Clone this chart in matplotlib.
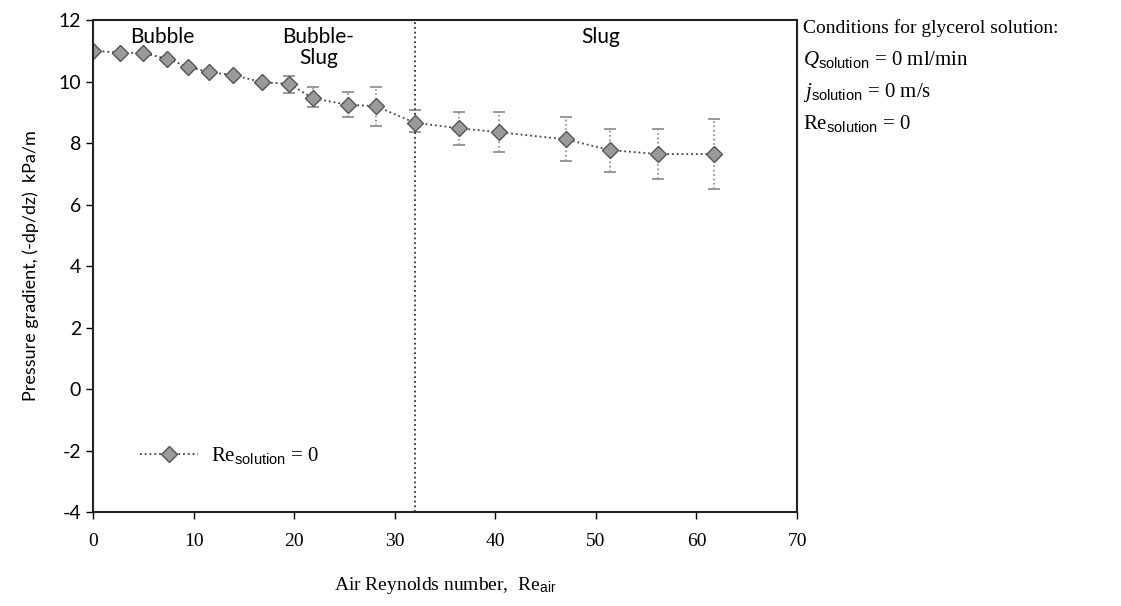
import matplotlib
matplotlib.use("Agg")
import matplotlib.pyplot as plt
from matplotlib.lines import Line2D
import numpy as np

# ---- data ----
re_air = [0, 2.65, 5.0, 7.4, 9.4, 11.5, 13.9, 16.8, 19.5, 21.9, 25.4, 28.1,
          32.0, 36.4, 40.4, 47.0, 51.4, 56.2, 61.7]
dpdz = [11.00, 10.94, 10.92, 10.74, 10.48, 10.31, 10.21, 9.98, 9.92, 9.45, 9.24, 9.20,
        8.66, 8.48, 8.35, 8.12, 7.77, 7.64, 7.64]
err_up = [0, 0, 0, 0, 0, 0, 0, 0, 0.26, 0.36, 0.43, 0.61,
          0.41, 0.54, 0.67, 0.74, 0.68, 0.81, 1.13]
err_low = [0, 0, 0, 0, 0, 0, 0, 0, 0.30, 0.27, 0.40, 0.65,
           0.31, 0.55, 0.63, 0.71, 0.70, 0.81, 1.15]
regime_boundary = 32.0
x_ticks = [0, 10, 20, 30, 40, 50, 60, 70]
y_ticks = [-4, -2, 0, 2, 4, 6, 8, 10, 12]

plt.rcParams['mathtext.fontset'] = 'custom'
plt.rcParams['mathtext.rm'] = 'Liberation Sans'
plt.rcParams['mathtext.it'] = 'Liberation Serif:italic'
plt.rcParams['axes.unicode_minus'] = False
plt.rcParams['font.family'] = ['Liberation Serif', 'DejaVu Sans']

fig = plt.figure(figsize=(11.21, 6.06), dpi=100)
ax = fig.add_axes([0.083, 0.155, 0.628, 0.812])

mk = dict(marker='D', markerfacecolor='#9a9a9a', markeredgecolor='#555555', markersize=8)

eb = ax.errorbar(re_air, dpdz, yerr=[err_low, err_up], fmt='D', color='#444444',
                 ecolor='#888888', elinewidth=1.2, capsize=4, capthick=1.2,
                 linestyle=':', linewidth=1.3, **{k: v for k, v in mk.items() if k != 'marker'})
for lc in eb[2]:
    lc.set_linestyle(':')

ax.axvline(regime_boundary, color='#333333', linestyle=':', linewidth=1.3)

ax.set_xlim(0, 70)
ax.set_ylim(-4, 12)
ax.set_xticks(x_ticks)
ax.set_yticks(y_ticks)
ax.tick_params(axis='both', direction='out', length=5, width=1)
ax.tick_params(axis='x', labelsize=14, pad=10)
ax.tick_params(axis='y', labelsize=14)
for lab in ax.get_yticklabels():
    lab.set_family('Lato')
for sp in ax.spines.values():
    sp.set_linewidth(1.5)
    sp.set_color('#222222')

ax.set_xlabel(r'Air Reynolds number,  Re$_{\rm air}$', fontsize=14, labelpad=18)
ax.set_ylabel('Pressure gradient, (-dp/dz)  kPa/m', fontsize=13, family='Lato', labelpad=14)

ax.text(6.9, 11.45, 'Bubble', ha='center', va='center', fontsize=15, family='Lato')
ax.text(22.4, 11.1, 'Bubble-\nSlug', ha='center', va='center', fontsize=15, family='Lato',
        linespacing=1.1)
ax.text(50.5, 11.45, 'Slug', ha='center', va='center', fontsize=15, family='Lato')

handle = Line2D([], [], color='#444444', linestyle=':', linewidth=1.3, **mk)
ax.legend([handle], [r'Re$_{\rm solution}$ = 0'], loc='center left',
          bbox_to_anchor=(0.04, 0.115), frameon=False, fontsize=15,
          handlelength=2.8, handletextpad=0.6, numpoints=1)

fx = 803 / 1121
fig.text(fx, 1 - 28 / 606, 'Conditions for glycerol solution:', fontsize=14, va='center')
fig.text(fx, 1 - 60 / 606, r'$\mathit{Q}_{\rm solution}$ = 0 ml/min', fontsize=15, va='center')
fig.text(fx, 1 - 92 / 606, r'$\mathit{j}_{\rm solution}$ = 0 m/s', fontsize=15, va='center')
fig.text(fx, 1 - 123 / 606, r'Re$_{\rm solution}$ = 0', fontsize=15, va='center')

fig.savefig('out.png', dpi=100)
